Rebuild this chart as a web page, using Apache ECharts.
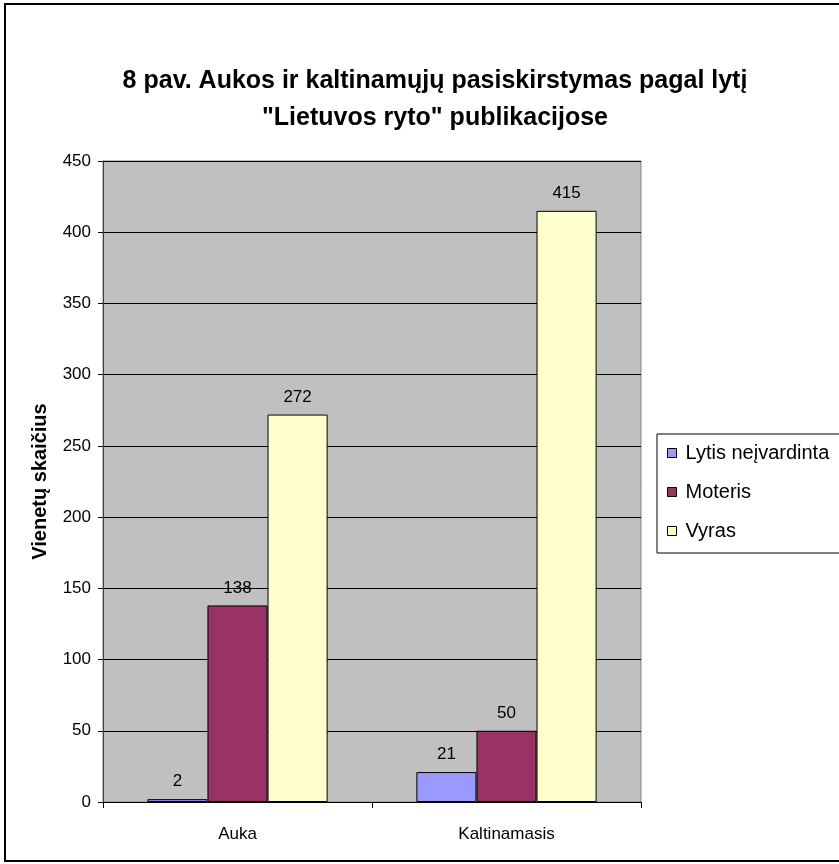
<!DOCTYPE html>
<html>
<head>
<meta charset="utf-8">
<script src="https://cdn.jsdelivr.net/npm/echarts@6/dist/echarts.min.js"></script>
<style>
  html, body { margin: 0; padding: 0; background: #fff; }
  #chart { width: 839px; height: 864px; }
</style>
</head>
<body>
<div id="chart"></div>
<script>
// duomenys
var categories = ['Auka', 'Kaltinamasis'];
var seriesNames = ['Lytis neįvardinta', 'Moteris', 'Vyras'];
var unknownVals = [2, 21];
var femaleVals = [138, 50];
var maleVals = [272, 415];
var yTicks = [0, 50, 100, 150, 200, 250, 300, 350, 400, 450];

var colors = ['#9999FF', '#993366', '#FFFFCC'];
var fnt = 'Liberation Sans, Arial, sans-serif';

var myChart = echarts.init(document.getElementById('chart'));

function mkSeries(idx, data) {
	return {
		name: seriesNames[idx],
		type: 'bar',
		data: data,
		barGap: '0%',
		barCategoryGap: '33%',
		itemStyle: {
			color: colors[idx],
			borderColor: '#000',
			borderWidth: 1
		},
		label: {
			show: true,
			position: 'top',
			distance: 9,
			color: '#000',
			fontSize: 17,
			fontFamily: fnt
		}
	};
}

var option = {
	animation: false,
	backgroundColor: '#fff',
	title: {
		text: '8 pav. Aukos ir kaltinamųjų pasiskirstymas pagal lytį\n"Lietuvos ryto" publikacijose',
		left: 430,
		top: 58,
		textAlign: 'center',
		textStyle: {
			fontFamily: fnt,
			fontSize: 25,
			fontWeight: 'bold',
			color: '#000',
			lineHeight: 37
		}
	},
	legend: {
		orient: 'vertical',
		left: 657,
		top: 434,
		padding: [9, 40, 12, 10],
		itemGap: 19,
		itemWidth: 9,
		itemHeight: 9,
		icon: 'rect',
		backgroundColor: '#fff',
		borderColor: '#000',
		borderWidth: 1,
		borderRadius: 0,
		data: seriesNames,
		itemStyle: { borderColor: '#000', borderWidth: 1 },
		textStyle: {
			fontFamily: fnt,
			fontSize: 20,
			color: '#000',
			lineHeight: 20,
			padding: [0, 0, 0, 4]
		}
	},
	grid: {
		left: 103,
		right: 198,
		top: 161,
		bottom: 62,
		show: true,
		backgroundColor: '#C0C0C0',
		borderColor: '#808080',
		borderWidth: 1
	},
	xAxis: {
		type: 'category',
		data: categories,
		axisLine: { lineStyle: { color: '#000', width: 1 } },
		axisTick: { show: true, length: 6, lineStyle: { color: '#000' } },
		axisLabel: {
			margin: 24,
			fontFamily: fnt,
			fontSize: 17,
			color: '#000'
		}
	},
	yAxis: {
		type: 'value',
		min: yTicks[0],
		max: yTicks[yTicks.length - 1],
		interval: 50,
		name: 'Vienetų skaičius',
		nameLocation: 'middle',
		nameGap: 53,
		nameTextStyle: {
			fontFamily: fnt,
			fontSize: 20,
			fontWeight: 'bold',
			color: '#000'
		},
		axisLine: { show: true, lineStyle: { color: '#404040', width: 1 } },
		axisTick: { show: true, length: 5, lineStyle: { color: '#000' } },
		axisLabel: {
			margin: 12,
			fontFamily: fnt,
			fontSize: 17,
			color: '#000'
		},
		splitLine: { show: true, lineStyle: { color: '#000', width: 1 } }
	},
	graphic: [{
		type: 'rect',
		shape: { x: 5, y: 4, width: 900, height: 857 },
		style: { fill: null, stroke: '#000', lineWidth: 2 },
		silent: true,
		z: -1
	}],
	series: [
		mkSeries(0, unknownVals),
		mkSeries(1, femaleVals),
		mkSeries(2, maleVals)
	]
};

//装载
myChart.setOption(option);
</script>
</body>
</html>
